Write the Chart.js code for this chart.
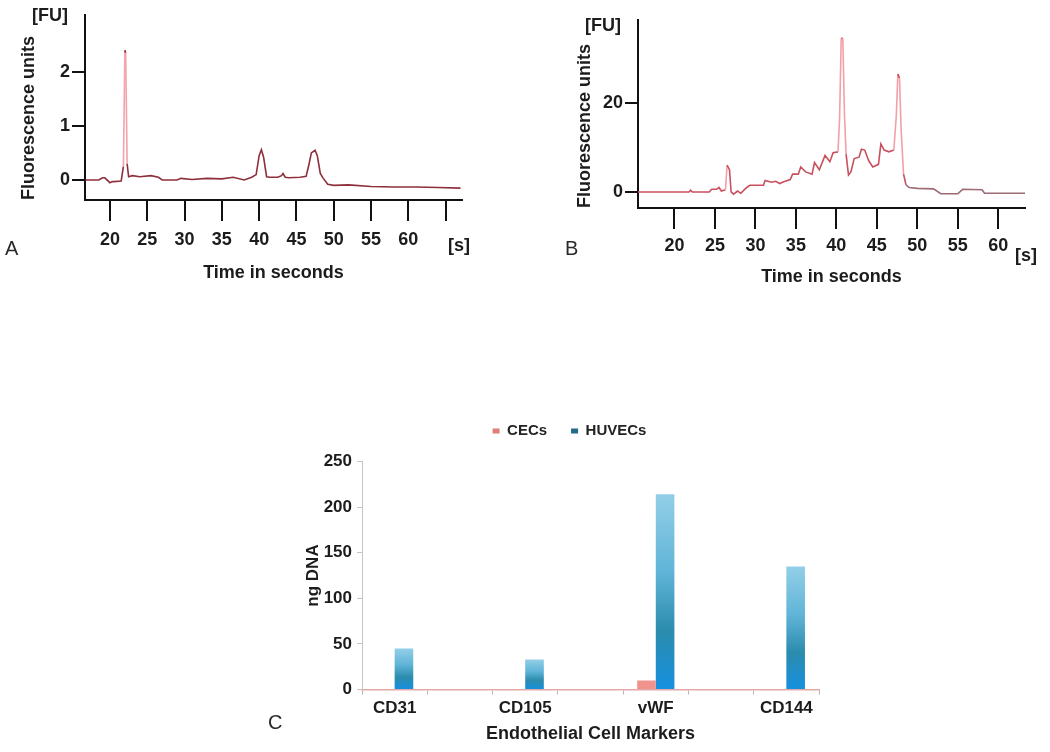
<!DOCTYPE html>
<html>
<head>
<meta charset="utf-8">
<script src="https://cdn.jsdelivr.net/npm/chart.js"></script>
<style>
  body { margin: 0; background: #fff; width: 1050px; height: 752px; position: relative; overflow: hidden; font-family: 'Liberation Sans', Arial, sans-serif; }
  canvas { position: absolute; }
  .lbl { position: absolute; color: #1c1c1c; font-weight: bold; font-size: 18px; line-height: 1; white-space: nowrap; }
  .panel { position: absolute; color: #2a2a2a; font-size: 20px; line-height: 1; }
</style>
</head>
<body>
<canvas id="chartA" width="480" height="290" style="left:0;top:0"></canvas>
<canvas id="chartB" width="510" height="300" style="left:540px;top:0"></canvas>
<canvas id="chartC" width="560" height="362" style="left:280px;top:390px"></canvas>

<div class="lbl" style="left:32px;top:6px">[FU]</div>
<div class="lbl" style="left:448px;top:236px">[s]</div>
<div class="panel" style="left:5px;top:238px">A</div>

<div class="lbl" style="left:585px;top:16px">[FU]</div>
<div class="lbl" style="left:1015px;top:246px">[s]</div>
<div class="panel" style="left:565px;top:238px">B</div>

<div class="panel" style="left:268px;top:712px">C</div>

<script>
// panel A - electropherogram, CEC sample
const timeA = [16.7, 18.5, 19.0, 19.3, 20.0, 20.3, 20.5, 21.5, 21.8, 22.0, 22.1, 22.3, 22.5, 23.0, 24.0, 25.5, 26.5, 27.0, 29.0, 29.5, 31.0, 33.0, 35.0, 36.5, 38.0, 39.0, 39.6, 40.0, 40.3, 40.6, 41.0, 41.4, 42.5, 43.0, 43.2, 43.5, 44.0, 45.5, 46.3, 46.7, 47.0, 47.5, 47.8, 48.2, 48.6, 49.2, 50.0, 52.0, 55.0, 58.0, 61.0, 64.0, 67.0];
const fuA = [0.0, 0.0, 0.04, 0.04, -0.05, -0.03, -0.03, -0.02, 0.25, 2.4, 2.35, 0.3, 0.06, 0.08, 0.06, 0.08, 0.05, 0.0, 0.0, 0.03, 0.01, 0.03, 0.02, 0.05, 0.0, 0.05, 0.1, 0.45, 0.56, 0.42, 0.06, 0.05, 0.05, 0.08, 0.12, 0.05, 0.04, 0.05, 0.07, 0.3, 0.5, 0.55, 0.45, 0.12, 0.03, -0.08, -0.1, -0.09, -0.12, -0.13, -0.13, -0.14, -0.15];
const xTicksA = [20, 25, 30, 35, 40, 45, 50, 55, 60, 65];
const xLabelsA = [20, 25, 30, 35, 40, 45, 50, 55, 60];
const yTicksA = [0, 1, 2];

// panel B - electropherogram, HUVEC sample
const timeB = [15.5, 21.8, 22.0, 22.2, 24.3, 24.6, 25.2, 25.5, 25.8, 26.3, 26.5, 26.8, 27.0, 27.3, 27.8, 28.2, 28.8, 29.3, 31.0, 31.2, 32.0, 32.5, 33.0, 33.5, 34.3, 34.6, 35.3, 35.6, 36.2, 37.0, 37.3, 37.9, 38.6, 39.2, 39.6, 40.2, 40.4, 40.6, 40.8, 41.0, 41.2, 41.5, 41.8, 42.2, 42.8, 43.1, 43.5, 44.0, 44.5, 45.2, 45.5, 45.9, 46.5, 47.1, 47.4, 47.6, 47.8, 48.0, 48.3, 48.6, 49.0, 50.0, 52.0, 52.9, 55.0, 55.6, 58.0, 58.3, 63.3];
const fuB = [0.0, 0.0, 0.4, 0.0, 0.0, 0.6, 0.6, 1.0, 0.2, 0.5, 6.0, 5.0, 0.0, -0.5, 0.2, -0.3, 0.8, 1.5, 1.5, 2.6, 2.2, 2.4, 1.9, 2.3, 2.8, 4.0, 4.0, 5.6, 4.5, 4.0, 6.6, 5.0, 8.2, 6.8, 8.8, 9.0, 16.5, 34.5, 34.5, 17.5, 8.5, 3.8, 4.5, 7.5, 7.8, 9.6, 9.4, 7.0, 5.6, 6.2, 10.8, 9.4, 9.0, 9.4, 17.0, 26.5, 25.5, 14.0, 4.0, 1.6, 1.0, 0.8, 0.7, -0.4, -0.4, 0.6, 0.5, -0.3, -0.3];
const xTicksB = [20, 25, 30, 35, 40, 45, 50, 55, 60];
const yTicksB = [0, 20];

// panel C - ng DNA per marker
const markers = ['CD31', '', 'CD105', '', 'vWF', '', 'CD144'];
const cecs = [0, null, 0, null, 10, null, 0];
const huvecs = [45, null, 33, null, 214, null, 135];

Chart.defaults.font.family = "'Liberation Sans', Arial, sans-serif";
Chart.defaults.color = '#1c1c1c';

const bold = size => ({ size, weight: 'bold' });

function electropherogram(id, xs, ys, cfg) {
  return new Chart(document.getElementById(id), {
    type: 'line',
    data: {
      datasets: [{
        data: xs.map((x, i) => ({ x, y: ys[i] })),
        borderColor: cfg.color,
        borderWidth: 1.6,
        pointRadius: 0,
        tension: 0,
        segment: { borderColor: cfg.segColor }
      }]
    },
    options: {
      responsive: false,
      animation: false,
      layout: { padding: cfg.padding },
      plugins: { legend: { display: false }, tooltip: { enabled: false } },
      scales: {
        x: {
          type: 'linear',
          min: cfg.xMin,
          max: cfg.xMax,
          afterBuildTicks: s => { s.ticks = cfg.xTicks.map(v => ({ value: v })); },
          afterFit: s => { s.height = cfg.xHeight; },
          border: { color: '#111', width: 2 },
          grid: { drawOnChartArea: false, tickLength: 21, color: '#111', lineWidth: 2 },
          ticks: {
            font: bold(18), padding: cfg.xTickPad, maxRotation: 0,
            callback: v => cfg.xLabels.includes(v) ? v : ''
          },
          title: { display: true, text: 'Time in seconds', font: bold(18), padding: { top: 0, bottom: 0 } }
        },
        y: {
          min: cfg.yMin,
          max: cfg.yMax,
          afterBuildTicks: s => { s.ticks = cfg.yTicks.map(v => ({ value: v })); },
          afterFit: s => { s.width = cfg.yWidth; },
          border: { color: '#111', width: 2 },
          grid: { drawOnChartArea: false, tickLength: 13, color: '#111', lineWidth: 2 },
          ticks: { font: bold(18), padding: 2 },
          title: { display: true, text: 'Fluorescence units', align: 'start', font: bold(18), padding: { top: cfg.yTitlePad, bottom: 0 } }
        }
      }
    }
  });
}

// steep flanks come out pale pink in the scan
electropherogram('chartA', timeA, fuA, {
  color: '#8e2f3b',
  segColor: c => Math.abs(c.p1.parsed.y - c.p0.parsed.y) > 0.5 ? '#f3a3ab' : undefined,
  padding: { left: 0, top: 15, right: 18, bottom: 6 },
  xMin: 16.65, xMax: 67.2, xTicks: xTicksA, xLabels: xLabelsA, xHeight: 84, xTickPad: 8,
  yMin: -0.37, yMax: 3.05, yTicks: yTicksA, yWidth: 85, yTitlePad: 18
});

electropherogram('chartB', timeB, fuB, {
  color: '#c9505e',
  segColor: c => {
    if (Math.abs(c.p1.parsed.y - c.p0.parsed.y) > 5) return '#f2a0a8';
    if (c.p0.parsed.x >= 48.6) return '#9c6b74';
    return undefined;
  },
  padding: { left: 0, top: 20, right: 25, bottom: 12 },
  xMin: 15.5, xMax: 63.3, xTicks: xTicksB, xLabels: xTicksB, xHeight: 80, xTickPad: 6,
  yMin: -3.6, yMax: 38.6, yTicks: yTicksB, yWidth: 98, yTitlePad: 34
});

// extra room under the legend and nudge it right like the original
const legendGap = {
  id: 'legendGap',
  beforeInit(chart) {
    const fit = chart.legend.fit;
    chart.legend.fit = function () { fit.call(this); this.height += 13; };
  },
  afterLayout(chart) {
    chart.legend.left += 20;
    chart.legend.right += 20;
  }
};

function blueBar(c) {
  const chart = c.chart;
  if (c.type !== 'data' || !chart.chartArea || c.raw == null) return '#2a6f8c';
  const top = chart.scales.y.getPixelForValue(c.raw);
  const base = chart.scales.y.getPixelForValue(0);
  const g = chart.ctx.createLinearGradient(0, top, 0, base);
  g.addColorStop(0, '#93cfe7');
  g.addColorStop(0.4, '#5fb4d7');
  g.addColorStop(0.7, '#2b8cad');
  g.addColorStop(1, '#1690e0');
  return g;
}

const legendBoxes = ['#e07f7a', '#236b86'];

new Chart(document.getElementById('chartC'), {
  type: 'bar',
  data: {
    labels: markers,
    datasets: [
      { label: 'CECs', data: cecs, backgroundColor: '#f0938d', borderWidth: 0 },
      { label: 'HUVECs', data: huvecs, backgroundColor: blueBar, borderWidth: 0 }
    ]
  },
  options: {
    responsive: false,
    animation: false,
    layout: { padding: { left: 0, top: 9.5, right: 21, bottom: 7 } },
    datasets: { bar: { categoryPercentage: 0.57, barPercentage: 1.0 } },
    plugins: {
      legend: {
        position: 'top',
        labels: {
          boxWidth: 7, boxHeight: 5, padding: 24, font: bold(15), color: '#222',
          generateLabels: chart => Chart.defaults.plugins.legend.labels.generateLabels(chart)
            .map((item, i) => ({ ...item, fillStyle: legendBoxes[i], strokeStyle: legendBoxes[i], lineWidth: 0 }))
        }
      },
      tooltip: { enabled: false }
    },
    scales: {
      x: {
        afterFit: s => { s.height = 55.5; },
        border: { color: '#e3a7a7', width: 1.5 },
        grid: { drawOnChartArea: false, tickLength: 5, color: '#b5b5b5' },
        ticks: { font: bold(17), padding: 4, autoSkip: false, maxRotation: 0, color: '#1c1c1c' },
        title: { display: true, text: 'Endothelial Cell Markers', font: bold(18), padding: { top: 0, bottom: 0 } }
      },
      y: {
        min: 0,
        max: 250,
        afterFit: s => { s.width = 82; },
        border: { color: '#c4c4c4', width: 1 },
        grid: { drawOnChartArea: false, tickLength: 5, color: '#c4c4c4' },
        ticks: { stepSize: 50, font: bold(17), padding: 5, color: '#1c1c1c' },
        title: { display: true, text: 'ng DNA', font: bold(17), padding: { top: 23, bottom: 0 } }
      }
    }
  },
  plugins: [legendGap]
});
</script>
</body>
</html>
